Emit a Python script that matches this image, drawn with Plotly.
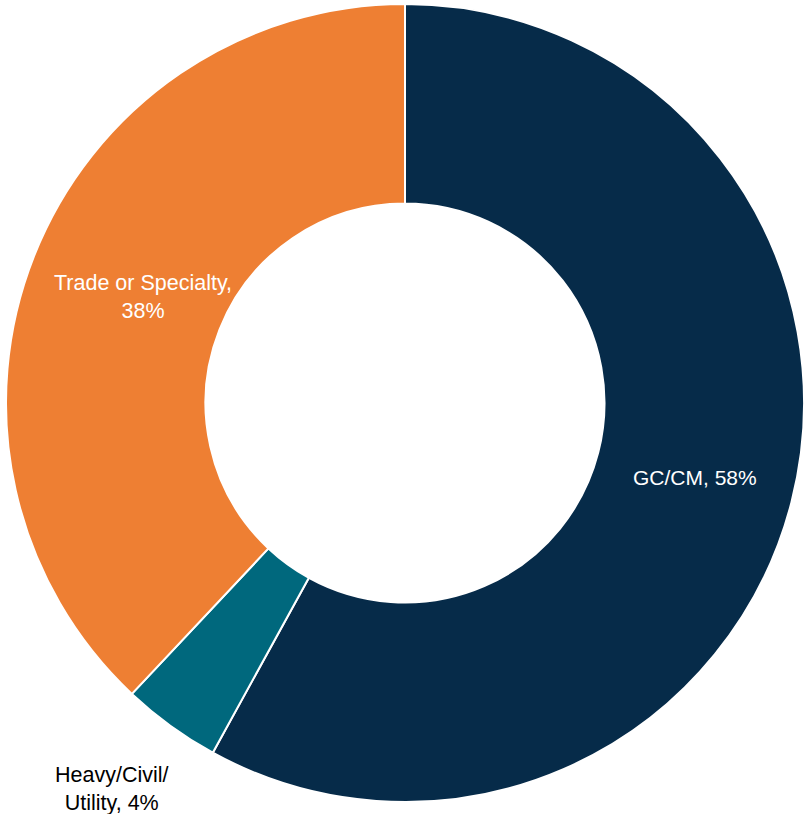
import plotly.graph_objects as go

labels = ["GC/CM", "Heavy/Civil/Utility", "Trade or Specialty"]
values = [58, 4, 38]
colors = ["#062B49", "#00687D", "#EE7F33"]
templates = ["%{label}, %{percent}", "", ""]
# label block text and centre (px) for the labels that are drawn as annotations
ann_text = {1: "Heavy/Civil/<br>Utility, {p}%", 2: "Trade or Specialty,<br>{p}%"}
ann_color = {1: "black", 2: "white"}
ann_pos = {1: (112, 789), 2: (143, 297)}

W, H = 804, 814
cx, cy, r = 406, 403, 400
FONT = "Liberation Sans, Arial, sans-serif"

fig = go.Figure(go.Pie(
    labels=labels,
    values=values,
    hole=0.5,
    sort=False,
    direction="clockwise",
    rotation=0,
    marker=dict(colors=colors, line=dict(color="white", width=2)),
    texttemplate=templates,
    textposition="inside",
    insidetextorientation="horizontal",
    textfont=dict(family=FONT, size=21, color="white"),
    showlegend=False,
    hoverinfo="label+percent",
    domain=dict(x=[(cx - r) / W, 1.0], y=[(H - cy - r) / H, (H - cy + r) / H]),
))

total = sum(values)
for i, t in ann_text.items():
    pct = round(values[i] / total * 100)
    px, py = ann_pos[i]
    fig.add_annotation(
        x=px / W, y=1 - py / H, xref="paper", yref="paper",
        text=t.format(p=pct),
        showarrow=False, xanchor="center", yanchor="middle",
        font=dict(family=FONT, size=21.5, color=ann_color[i]),
        align="center",
    )

fig.update_layout(
    width=W, height=H,
    margin=dict(l=0, r=0, t=0, b=0),
    paper_bgcolor="white", plot_bgcolor="white",
)

fig.write_html("out.html", config={"displayModeBar": False},
               post_script="document.body.style.margin='0';")
